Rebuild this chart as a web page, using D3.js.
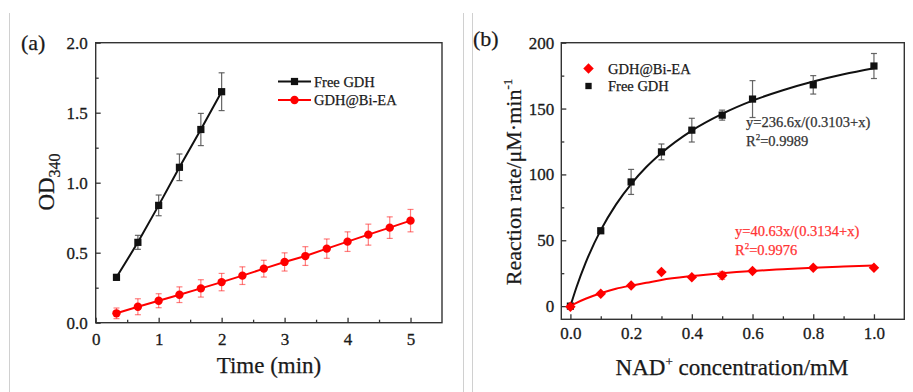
<!DOCTYPE html>
<html>
<head>
<meta charset="utf-8">
<script src="https://cdn.jsdelivr.net/npm/d3@7"></script>
<style>
  html, body { margin: 0; padding: 0; background: #fff; }
</style>
</head>
<body>
<div id="chart-area"></div>
<script>
// ---- panel (a) data: OD340 vs time
const timeFree = [0.33, 0.67, 1, 1.33, 1.67, 2];
const odFree = [0.324, 0.574, 0.838, 1.11, 1.38, 1.65];
const odFreeErr = [0.02, 0.05, 0.074, 0.095, 0.115, 0.135];

const timeBiEA = [0.33, 0.67, 1, 1.33, 1.67, 2, 2.33, 2.67, 3, 3.33, 3.67, 4, 4.33, 4.67, 5];
const odBiEA = [0.067, 0.114, 0.157, 0.2, 0.245, 0.29, 0.336, 0.386, 0.434, 0.476, 0.529, 0.579, 0.629, 0.679, 0.729];
const odBiEAErr = [0.038, 0.057, 0.05, 0.056, 0.062, 0.062, 0.063, 0.06, 0.065, 0.067, 0.069, 0.07, 0.075, 0.077, 0.08];

const timeTicks = [0, 1, 2, 3, 4, 5];
const timeMinor = [0.5, 1.5, 2.5, 3.5, 4.5];
const odTicks = [0, 0.5, 1.0, 1.5, 2.0];
const odMinor = [0.25, 0.75, 1.25, 1.75];

// ---- panel (b) data: reaction rate vs NAD+ concentration
const nadConc = [0, 0.1, 0.2, 0.3, 0.4, 0.5, 0.6, 0.8, 1.0];
const rateFree = [0, 57.2, 94.3, 117.1, 133.6, 145, 157.2, 168, 182.3];
const rateFreeErr = [1, 2, 9.5, 6, 9, 3.8, 14, 7, 9.5];
const rateBiEA = [-0.5, 9.4, 15.7, 25.9, 22, 23.3, 26.6, 29.2, 29.2];
const rateBiEAErr = [0, 1, 1, 0, 1, 3, 1, 0.5, 0.5];

// fitted curves (Michaelis-Menten)
const fitConc = [0, 0.02, 0.05, 0.1, 0.15, 0.2, 0.25, 0.3, 0.4, 0.5, 0.6, 0.7, 0.8, 0.9, 1.0];
const fitFree = [0, 14.3, 32.8, 57.7, 77.1, 92.7, 105.6, 116.3, 133.3, 146.0, 156.0, 163.9, 170.5, 176.0, 180.6];
const fitBiEA = [0, 2.5, 5.6, 9.8, 13.2, 15.6, 17.7, 19.9, 22.8, 25.0, 26.7, 28.0, 29.2, 30.1, 30.9];

const concTicks = [0, 0.2, 0.4, 0.6, 0.8, 1.0];
const concMinor = [0.1, 0.3, 0.5, 0.7, 0.9];
const rateTicks = [0, 50, 100, 150, 200];
const rateMinor = [25, 75, 125, 175];

const serif = '"Liberation Serif", "Times New Roman", Times, serif';
const textColor = '#1a1a1a';

const svg = d3.select('#chart-area')
  .append('svg')
  .attr('width', 913)
  .attr('height', 392)
  .attr('font-family', serif);

svg.append('rect').attr('width', 913).attr('height', 392).attr('fill', '#fff');

// page separators
[9.5, 463.5, 472.5].forEach(x => {
  svg.append('line')
    .attr('x1', x).attr('x2', x)
    .attr('y1', 13).attr('y2', 392)
    .attr('stroke', '#d0d0d0').attr('stroke-width', 1);
});

const axisColor = '#333';

function frame(x, y) {
  const [x0, x1] = x.range();
  const [y0, y1] = y.range();
  svg.append('rect')
    .attr('x', x0).attr('y', y1)
    .attr('width', x1 - x0).attr('height', y0 - y1)
    .attr('fill', 'none')
    .attr('stroke', axisColor)
    .attr('stroke-width', 1.4);
}

function axes(x, y, xt, xm, yt, ym, xFmt, yFmt, xPad, yPad) {
  const [y0] = y.range();
  const [x0] = x.range();

  const gx = svg.append('g')
    .attr('transform', `translate(0, ${y0})`)
    .call(d3.axisBottom(x).tickValues(xt).tickFormat(xFmt)
      .tickSizeInner(-5).tickSizeOuter(0).tickPadding(xPad));
  svg.append('g')
    .attr('transform', `translate(0, ${y0})`)
    .call(d3.axisBottom(x).tickValues(xm).tickFormat('')
      .tickSizeInner(-3).tickSizeOuter(0));

  const gy = svg.append('g')
    .attr('transform', `translate(${x0}, 0)`)
    .call(d3.axisLeft(y).tickValues(yt).tickFormat(yFmt)
      .tickSizeInner(-5).tickSizeOuter(0).tickPadding(yPad));
  svg.append('g')
    .attr('transform', `translate(${x0}, 0)`)
    .call(d3.axisLeft(y).tickValues(ym).tickFormat('')
      .tickSizeInner(-3).tickSizeOuter(0));

  svg.selectAll('.domain').remove();
  svg.selectAll('.tick line').attr('stroke', axisColor).attr('stroke-width', 1.3);
  [gx, gy].forEach(g => {
    g.attr('font-family', serif).attr('font-size', 17);
    g.selectAll('text')
      .attr('fill', textColor)
      .attr('stroke', textColor)
      .attr('stroke-width', 0.3);
  });
}

function errorBars(x, y, xs, ys, es, color, opacity) {
  const g = svg.append('g')
    .attr('stroke', color)
    .attr('stroke-opacity', opacity)
    .attr('stroke-width', 1.2);
  xs.forEach((xv, i) => {
    if (!es[i]) return;
    const cx = x(xv);
    const top = y(ys[i] + es[i]);
    const bot = y(ys[i] - es[i]);
    g.append('line').attr('x1', cx).attr('x2', cx).attr('y1', top).attr('y2', bot);
    g.append('line').attr('x1', cx - 3).attr('x2', cx + 3).attr('y1', top).attr('y2', top);
    g.append('line').attr('x1', cx - 3).attr('x2', cx + 3).attr('y1', bot).attr('y2', bot);
  });
}

function seriesLine(x, y, xs, ys, color, curve) {
  const line = d3.line()
    .x(d => x(d[0]))
    .y(d => y(d[1]))
    .curve(curve || d3.curveLinear);
  svg.append('path')
    .datum(xs.map((v, i) => [v, ys[i]]))
    .attr('d', line)
    .attr('fill', 'none')
    .attr('stroke', color)
    .attr('stroke-width', 2);
}

function markers(x, y, xs, ys, type, size, color) {
  const sym = d3.symbol().type(type).size(size);
  svg.append('g').selectAll('path')
    .data(xs.map((v, i) => [v, ys[i]]))
    .enter().append('path')
    .attr('transform', d => `translate(${x(d[0])}, ${y(d[1])})`)
    .attr('d', sym)
    .attr('fill', color);
}

function label(x, y, size, str, color) {
  const c = color || textColor;
  return svg.append('text')
    .attr('x', x).attr('y', y)
    .attr('font-family', serif)
    .attr('font-size', size)
    .attr('fill', c)
    .attr('stroke', c)
    .attr('stroke-width', 0.25)
    .text(str);
}

// ================= panel (a)
const xA = d3.scaleLinear().domain([0, 5.5]).range([95.7, 442]);
const yA = d3.scaleLinear().domain([0, 2]).range([322.7, 42.7]);

frame(xA, yA);
axes(xA, yA, timeTicks, timeMinor, odTicks, odMinor, d3.format('d'), d3.format('.1f'), 10, 8);

errorBars(xA, yA, timeFree, odFree, odFreeErr, '#555', 0.9);
seriesLine(xA, yA, timeFree, odFree, '#111');
markers(xA, yA, timeFree, odFree, d3.symbolSquare, 52, '#111');

errorBars(xA, yA, timeBiEA, odBiEA, odBiEAErr, '#ff0000', 0.5);
seriesLine(xA, yA, timeBiEA, odBiEA, '#ff0000');
markers(xA, yA, timeBiEA, odBiEA, d3.symbolCircle, 55, '#ff0000');

// legend (a)
const legendA = [
  { label: 'Free GDH', color: '#111', type: d3.symbolSquare, size: 52, y: 81.5 },
  { label: 'GDH@Bi-EA', color: '#ff0000', type: d3.symbolCircle, size: 55, y: 100 }
];
legendA.forEach(l => {
  svg.append('line')
    .attr('x1', 278).attr('x2', 311).attr('y1', l.y).attr('y2', l.y)
    .attr('stroke', l.color).attr('stroke-width', 2);
  svg.append('path')
    .attr('transform', `translate(294.5, ${l.y})`)
    .attr('d', d3.symbol().type(l.type).size(l.size)())
    .attr('fill', l.color);
  label(314, l.y + 5, 14.5, l.label);
});

label(21, 50, 22, '(a)');
label(269, 373, 23, 'Time (min)').attr('text-anchor', 'middle');

const odLabel = label(0, 0, 23, null)
  .attr('transform', 'translate(54, 182) rotate(-90)')
  .attr('text-anchor', 'middle');
odLabel.append('tspan').text('OD');
odLabel.append('tspan').attr('font-size', 16).attr('dy', 6).text('340');

// ================= panel (b)
const xB = d3.scaleLinear().domain([-0.03, 1.1]).range([561.3, 904.3]);
const yB = d3.scaleLinear().domain([-10, 200]).range([319.3, 42.7]);

frame(xB, yB);
axes(xB, yB, concTicks, concMinor, rateTicks, rateMinor, d3.format('.1f'), d3.format('d'), 8, 7);

seriesLine(xB, yB, fitConc, fitFree, '#111', d3.curveMonotoneX);
errorBars(xB, yB, nadConc, rateFree, rateFreeErr, '#555', 0.9);
markers(xB, yB, nadConc, rateFree, d3.symbolSquare, 52, '#111');

seriesLine(xB, yB, fitConc, fitBiEA, '#ff0000', d3.curveMonotoneX);
errorBars(xB, yB, nadConc, rateBiEA, rateBiEAErr, '#ff0000', 0.5);
markers(xB, yB, nadConc, rateBiEA, d3.symbolDiamond2, 70, '#ff0000');

// legend (b)
const legendB = [
  { label: 'GDH@Bi-EA', color: '#ff0000', type: d3.symbolDiamond2, size: 70, y: 68.5 },
  { label: 'Free GDH', color: '#111', type: d3.symbolSquare, size: 40, y: 86 }
];
legendB.forEach(l => {
  svg.append('path')
    .attr('transform', `translate(588.5, ${l.y})`)
    .attr('d', d3.symbol().type(l.type).size(l.size)())
    .attr('fill', l.color);
  label(608, l.y + 5, 14.5, l.label);
});

// fit annotations
const fits = [
  { eq: 'y=236.6x/(0.3103+x)', r2: '=0.9989', color: '#333', x: 746, y: 127 },
  { eq: 'y=40.63x/(0.3134+x)', r2: '=0.9976', color: '#ff3333', x: 735, y: 236 }
];
fits.forEach(f => {
  label(f.x, f.y, 14.5, f.eq, f.color);
  const r = label(f.x, f.y + 19, 14.5, null, f.color);
  r.append('tspan').text('R');
  r.append('tspan').attr('font-size', 9).attr('dy', -6).text('2');
  r.append('tspan').attr('dy', 6).text(f.r2);
});

label(473, 46, 22, '(b)');

const nadLabel = label(732, 375, 23, null).attr('text-anchor', 'middle');
nadLabel.append('tspan').text('NAD');
nadLabel.append('tspan').attr('font-size', 13).attr('dy', -9).text('+');
nadLabel.append('tspan').attr('dy', 9).text(' concentration/mM');

const rateLabel = label(0, 0, 22, null)
  .attr('transform', 'translate(521, 182) rotate(-90)')
  .attr('text-anchor', 'middle');
rateLabel.append('tspan').text('Reaction rate/μM·min');
rateLabel.append('tspan').attr('font-size', 13).attr('dy', -9).text('-1');
</script>
</body>
</html>
